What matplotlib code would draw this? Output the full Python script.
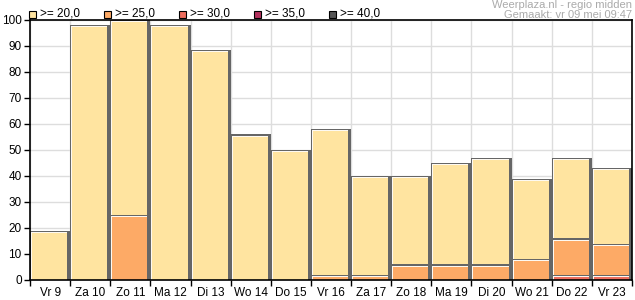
import matplotlib.pyplot as plt
from matplotlib.patches import Rectangle

plt.rcParams['font.family'] = ['Liberation Sans', 'DejaVu Sans']

dagen = ['Vr 9', 'Za 10', 'Zo 11', 'Ma 12', 'Di 13', 'Wo 14', 'Do 15', 'Vr 16',
         'Za 17', 'Zo 18', 'Ma 19', 'Di 20', 'Wo 21', 'Do 22', 'Vr 23']
# kans (%) op temperatuur boven drempel
p20 = [19, 98, 100, 98, 88.5, 56, 50, 58, 40, 40, 45, 47, 39, 47, 43]
p25 = [0, 0, 25, 0, 0, 0, 0, 2, 2, 6, 6, 6, 8, 16, 14]
p30 = [0, 0, 0, 0, 0, 0, 0, 0, 0, 0, 0, 0, 0, 2, 2]
p35 = [0] * 15
p40 = [0] * 15

labels = ['>= 20,0', '>= 25,0', '>= 30,0', '>= 35,0', '>= 40,0']
kleuren = ['#ffe4a0', '#fdaa66', '#ee6e5e', '#b3325e', '#555555']
reeksen = [p20, p25, p30, p35, p40]

fig = plt.figure(figsize=(6.35, 3.0), dpi=100)
ax = fig.add_axes([30 / 635, 20 / 300, 602 / 635, 260 / 300])

py = 100 / 260   # 1 pixel verticaal in data-eenheden
px = 15 / 602    # 1 pixel horizontaal
for n, (reeks, kleur) in enumerate(zip(reeksen, kleuren)):
    z = 2 + 3 * n
    for i, v in enumerate(reeks):
        if v <= 0:
            continue
        # donkere rand / schaduw
        ax.bar(i, v, width=1.0, align='edge', color='#666666', linewidth=0, zorder=z)
        # lichte binnenrand
        ax.bar(i + 1 * px, v - 1.2 * py, width=1 - 4 * px, align='edge',
               color='#fdf9f2', linewidth=0, zorder=z + 1)
        # vlak
        ax.bar(i + 2 * px, v - 2.2 * py, width=1 - 5 * px, align='edge',
               color=kleur, linewidth=0, zorder=z + 2)

ax.set_xlim(0, 15)
ax.set_ylim(0, 100)
ax.set_yticks(range(0, 101, 10))
ax.set_xticks(range(0, 16))
ax.set_xticklabels([])
ax.set_xticks([i + 0.5 for i in range(15)], minor=True)
ax.set_xticklabels(dagen, minor=True)
ax.tick_params(axis='x', which='minor', length=0, pad=5, labelsize=8.5)
ax.tick_params(axis='x', which='major', length=4, width=1)
ax.tick_params(axis='y', length=4, width=1, labelsize=8.5, pad=2)
ax.grid(True, which='major', color='#dddddd', linewidth=1, zorder=0)
ax.set_axisbelow(True)
for s in ax.spines.values():
    s.set_linewidth(1.2)
    s.set_zorder(30)

# legenda bovenaan
for k, (lab, kleur) in enumerate(zip(labels, kleuren)):
    x0 = 29 + k * 75
    fig.patches.append(Rectangle((x0 / 635, 1 - 18 / 300), 7 / 635, 7 / 300,
                                 transform=fig.transFigure, facecolor=kleur,
                                 edgecolor='black', linewidth=0.8))
    fig.text((x0 + 11) / 635, 1 - 14 / 300, lab, fontsize=8.5, va='center', ha='left')

fig.text(632 / 635, 1 - 5 / 300, 'Weerplaza.nl - regio midden', fontsize=8,
         color='#aaaaaa', ha='right', va='center')
fig.text(632 / 635, 1 - 15 / 300, 'Gemaakt: vr 09 mei 09:47', fontsize=8,
         color='#aaaaaa', ha='right', va='center')

fig.savefig('out.png', dpi=100)
